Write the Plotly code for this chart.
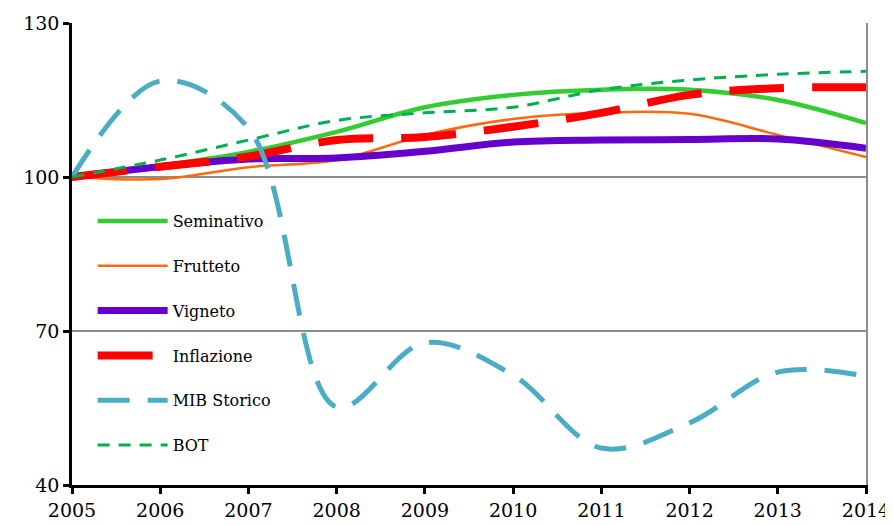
import plotly.graph_objects as go

years = [2005, 2006, 2007, 2008, 2009, 2010, 2011, 2012, 2013, 2014]
seminativo = [100, 102.2, 104.9, 108.8, 113.6, 116.0, 117.0, 117.0, 115.0, 110.5]
frutteto = [100, 99.6, 101.9, 103.3, 108.2, 111.3, 112.5, 112.3, 108.2, 103.9]
vigneto = [100, 102.0, 103.5, 103.7, 105.0, 106.8, 107.2, 107.3, 107.4, 105.6]
inflazione = [100, 102.0, 104.0, 107.2, 107.8, 109.8, 112.5, 116.0, 117.3, 117.5]
mib_storico = [100, 118.7, 109.5, 55.2, 67.7, 61.4, 47.2, 52.1, 62.0, 61.2]
bot = [100, 103.3, 107.2, 111.0, 112.5, 113.6, 117.0, 118.9, 120.0, 120.6]

y_ticks = [40, 70, 100, 130]

series = [
    ("Seminativo", seminativo, "#33CC33", 4.5, "solid"),
    ("Frutteto", frutteto, "#FF6A0D", 2.5, "solid"),
    ("Vigneto", vigneto, "#6600CC", 7, "solid"),
    ("Inflazione", inflazione, "#FF0000", 8, "55px,28px"),
    ("MIB Storico", mib_storico, "#4BACC6", 5, "32px,18px"),
    ("BOT", bot, "#00B050", 3, "12px,9px"),
]

FONT = "DejaVu Serif"

fig = go.Figure()
for name, vals, color, width, dash in series:
    fig.add_trace(go.Scatter(
        x=years, y=vals, name=name, mode="lines",
        line=dict(color=color, width=width, dash=dash, shape="spline", smoothing=1.0),
        legendgroup=name,
    ))

# gray right border via overlay axis
fig.add_trace(go.Scatter(x=[years[0]], y=[y_ticks[0]], yaxis="y2", showlegend=False,
                         mode="markers", marker=dict(opacity=0), hoverinfo="skip"))

fig.update_layout(
    width=885, height=517,
    margin=dict(l=64, r=27, t=15, b=40, autoexpand=False),
    paper_bgcolor="white", plot_bgcolor="white",
    font=dict(family=FONT, color="black", size=19),
    showlegend=True,
    legend=dict(
        x=0.026, y=0.608, xanchor="left", yanchor="top",
        bgcolor="rgba(0,0,0,0)", font=dict(family=FONT, size=16),
        tracegroupgap=21, itemwidth=70, traceorder="grouped",
    ),
    xaxis=dict(
        range=[2005, 2014], tickmode="array", tickvals=years,
        showline=True, linecolor="black", linewidth=2.5,
        ticks="outside", ticklen=6, tickwidth=2.5, tickcolor="black",
        showgrid=False, zeroline=False, tickfont=dict(family=FONT, size=19),
        automargin=False,
    ),
    yaxis=dict(
        range=[40, 130], tickmode="array", tickvals=y_ticks,
        showline=True, linecolor="black", linewidth=2.5,
        ticks="outside", ticklen=6, tickwidth=2.5, tickcolor="black",
        showgrid=True, gridcolor="#8C8C8C", gridwidth=2,
        zeroline=False, tickfont=dict(family=FONT, size=19),
        automargin=False,
    ),
    yaxis2=dict(
        range=[40, 130], overlaying="y", side="right",
        showline=True, linecolor="#8C8C8C", linewidth=2,
        showticklabels=False, ticks="", showgrid=False, zeroline=False,
        automargin=False,
    ),
)

fig.write_html("out.html")
